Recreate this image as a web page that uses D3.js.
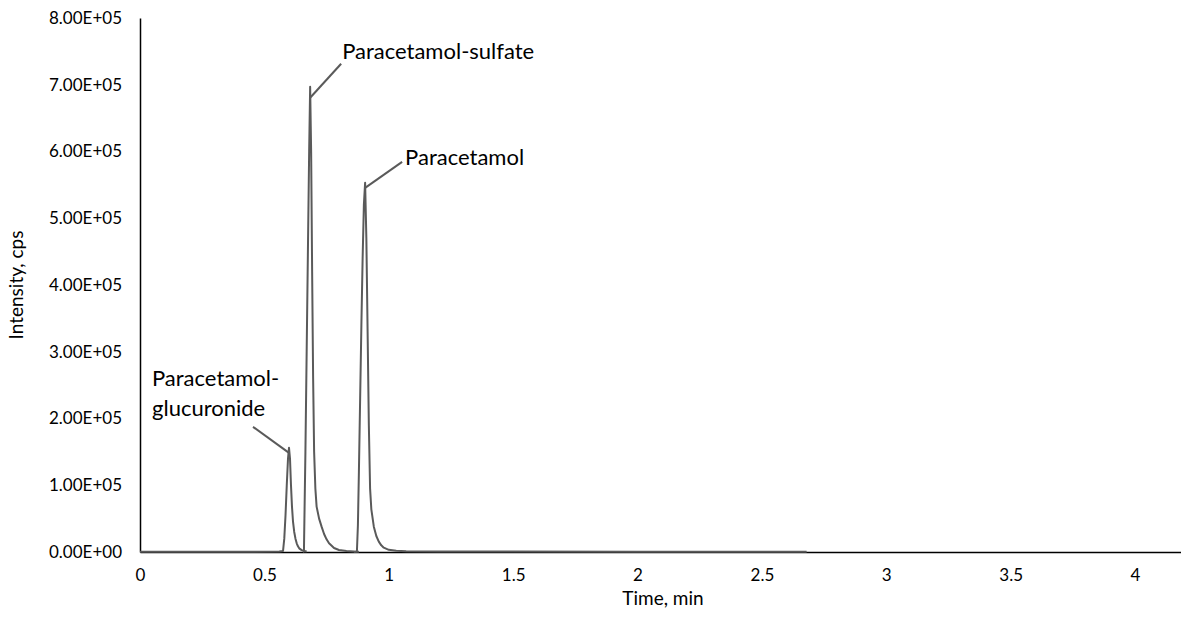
<!DOCTYPE html>
<html>
<head>
<meta charset="utf-8">
<script src="https://cdn.jsdelivr.net/npm/d3@7"></script>
<style>
  html, body { margin: 0; padding: 0; background: #fff; }
  svg { display: block; font-family: Lato, "Open Sans", sans-serif; }
</style>
</head>
<body>
<svg id="chart" width="1181" height="618"></svg>
<script>
// ---- data ----
const yTicks = [0, 100000, 200000, 300000, 400000, 500000, 600000, 700000, 800000];
const yTickLabels = ["0.00E+00", "1.00E+05", "2.00E+05", "3.00E+05", "4.00E+05", "5.00E+05", "6.00E+05", "7.00E+05", "8.00E+05"];
const xTicks = [0, 0.5, 1, 1.5, 2, 2.5, 3, 3.5, 4];
const xTickLabels = ["0", "0.5", "1", "1.5", "2", "2.5", "3", "3.5", "4"];

const glucTime = [0, 0.2, 0.4, 0.56, 0.575, 0.58, 0.585, 0.59, 0.595, 0.599, 0.603, 0.607, 0.611, 0.615, 0.62, 0.625, 0.63, 0.635, 0.64, 0.65, 0.66, 0.67];
const glucInt  = [500, 500, 500, 600, 1500, 20000, 55000, 100000, 140000, 156000, 140000, 100000, 68000, 46000, 30000, 20000, 13000, 8500, 5500, 2800, 1400, 700];

const sulfTime = [0.655, 0.659, 0.665, 0.67, 0.675, 0.68, 0.684, 0.688, 0.692, 0.696, 0.70, 0.705, 0.71, 0.72, 0.73, 0.74, 0.75, 0.76, 0.78, 0.80, 0.83, 0.86, 0.88];
const sulfInt  = [400, 600, 150000, 300000, 450000, 600000, 697000, 600000, 420000, 260000, 150000, 95000, 68000, 50000, 38000, 27000, 19000, 13000, 6000, 3000, 1400, 700, 500];

const paraTime = [0.86, 0.872, 0.876, 0.88, 0.885, 0.89, 0.895, 0.90, 0.905, 0.91, 0.915, 0.92, 0.925, 0.93, 0.94, 0.95, 0.96, 0.97, 0.98, 1.0, 1.03, 1.07, 1.2, 1.5, 2.0, 2.68];
const paraInt  = [500, 800, 40000, 120000, 230000, 340000, 440000, 520000, 553000, 470000, 330000, 190000, 95000, 64000, 38000, 24000, 15500, 10000, 6500, 3200, 1800, 1200, 800, 600, 500, 500];

const peakLabels = [
  { lines: ["Paracetamol-sulfate"], t: 0.684, v: 697000 },
  { lines: ["Paracetamol"], t: 0.905, v: 553000 },
  { lines: ["Paracetamol-", "glucuronide"], t: 0.599, v: 156000 }
];

// ---- layout ----
const svg = d3.select("#chart");
const x = d3.scaleLinear().domain([0, 4.2]).range([140, 140 + 4.2 * 248.75]);
const y = d3.scaleLinear().domain([0, 800000]).range([552, 18]);

// axes (no tick marks)
const yAxis = d3.axisLeft(y).tickValues(yTicks).tickFormat((d, i) => yTickLabels[i]).tickSize(0).tickPadding(18);
const gy = svg.append("g").attr("transform", `translate(${x(0)},0)`).call(yAxis);
gy.select(".domain").attr("stroke", "#000").attr("stroke-width", 1.5);
gy.selectAll("text").attr("font-size", 17).attr("fill", "#000").attr("font-family", "Lato, sans-serif");

const xAxis = d3.axisBottom(x).tickValues(xTicks).tickFormat((d, i) => xTickLabels[i]).tickSize(0).tickPadding(17);
const gx = svg.append("g").attr("transform", `translate(0,${y(0)})`).call(xAxis);
gx.select(".domain").attr("stroke", "#000").attr("stroke-width", 1.5);
gx.selectAll("text").attr("font-size", 17).attr("fill", "#000").attr("font-family", "Lato, sans-serif");

// series
const line = d3.line().x(d => x(d[0])).y(d => y(d[1]));
const series = [
  d3.zip(glucTime, glucInt),
  d3.zip(sulfTime, sulfInt),
  d3.zip(paraTime, paraInt)
];
svg.append("g").selectAll("path").data(series).join("path")
  .attr("d", line)
  .attr("fill", "none")
  .attr("stroke", "#5a5a5a")
  .attr("stroke-width", 2)
  .attr("stroke-linejoin", "round");

// axis titles
svg.append("text").attr("x", 663).attr("y", 605).attr("text-anchor", "middle")
  .attr("font-size", 19).attr("fill", "#000").text("Time, min");
svg.append("text").attr("transform", "translate(23,285) rotate(-90)").attr("text-anchor", "middle")
  .attr("font-size", 19).attr("fill", "#000").text("Intensity, cps");

// peak annotations (offsets relative to the peak point)
const ann = [
  { dx1: 0, dy1: 11, dx2: 31, dy2: -23, tx: 32, ty: -28 },
  { dx1: 0, dy1: 5, dx2: 37, dy2: -21, tx: 40, ty: -18 },
  { dx1: 0, dy1: 5, dx2: -36, dy2: -21, tx: -137, ty: -62 }
];
peakLabels.forEach((p, i) => {
  const a = ann[i];
  const px = x(p.t), py = y(p.v);
  svg.append("line")
    .attr("x1", px + a.dx1).attr("y1", py + a.dy1)
    .attr("x2", px + a.dx2).attr("y2", py + a.dy2)
    .attr("stroke", "#5a5a5a").attr("stroke-width", 2);
  const t = svg.append("text").attr("x", px + a.tx).attr("y", py + a.ty)
    .attr("font-size", 22).attr("fill", "#000");
  p.lines.forEach((s, j) => {
    t.append("tspan").attr("x", px + a.tx).attr("dy", j === 0 ? 0 : 30).text(s);
  });
});
</script>
</body>
</html>
